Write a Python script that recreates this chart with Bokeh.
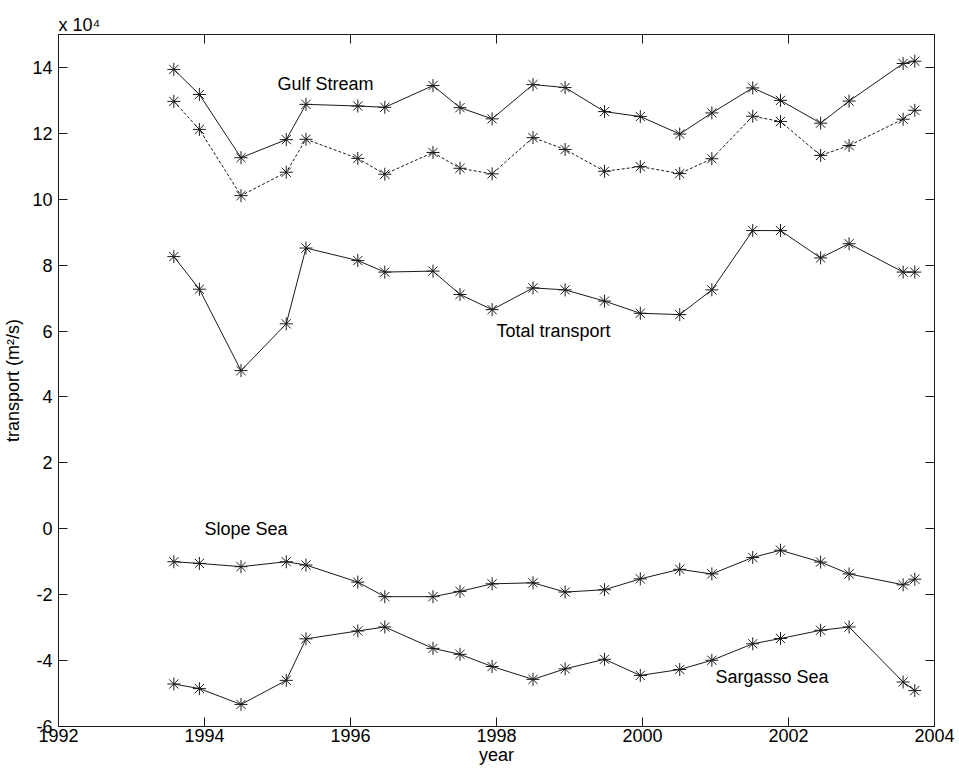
from bokeh.plotting import figure
from bokeh.models import LinearAxis, FixedTicker, Range1d, Label
from bokeh.embed import file_html
from bokeh.resources import INLINE

# Sampling times (decimal years)
years = [1993.58, 1993.93, 1994.50, 1995.12, 1995.39, 1996.10, 1996.47, 1997.13,
         1997.50, 1997.94, 1998.50, 1998.94, 1999.48, 1999.97, 2000.51, 2000.95,
         2001.51, 2001.89, 2002.44, 2002.83, 2003.57, 2003.73]

# Transports in units of 10^4 m^2/s
gulf_stream = [13.94, 13.18, 11.26, 11.81, 12.88, 12.83, 12.79, 13.45, 12.78, 12.44, 13.48,
               13.39, 12.66, 12.51, 11.98, 12.62, 13.38, 13.00, 12.31, 12.98, 14.12, 14.19]
gulf_stream_alt = [12.97, 12.12, 10.11, 10.82, 11.82, 11.24, 10.76, 11.42, 10.94, 10.77, 11.87,
                   11.51, 10.85, 10.99, 10.78, 11.23, 12.52, 12.36, 11.33, 11.63, 12.43, 12.70]
total_transport = [8.26, 7.27, 4.80, 6.22, 8.52, 8.14, 7.79, 7.82, 7.11, 6.65, 7.31,
                   7.25, 6.91, 6.54, 6.50, 7.25, 9.05, 9.05, 8.22, 8.65, 7.79, 7.79]
slope_sea = [-1.00, -1.05, -1.15, -1.00, -1.10, -1.62, -2.06, -2.06, -1.90, -1.67, -1.64,
             -1.92, -1.85, -1.52, -1.23, -1.37, -0.87, -0.65, -1.01, -1.37, -1.70, -1.53]
sargasso_sea = [-4.71, -4.85, -5.33, -4.60, -3.34, -3.10, -2.98, -3.63, -3.81, -4.18, -4.57,
                -4.25, -3.96, -4.45, -4.27, -3.99, -3.49, -3.33, -3.08, -2.98, -4.65, -4.91]

x_ticks = [1992, 1994, 1996, 1998, 2000, 2002, 2004]
y_ticks = [-6, -4, -2, 0, 2, 4, 6, 8, 10, 12, 14]

FONT = "Liberation Sans"
FS = "18px"
INK = "#1a1a1a"

p = figure(
    frame_width=876, frame_height=692,
    min_border_left=58, min_border_right=25, min_border_top=34, min_border_bottom=43,
    x_range=Range1d(1992, 2004), y_range=Range1d(-6, 15),
    output_backend="svg", toolbar_location=None,
    background_fill_color="white", border_fill_color="white",
)
p.grid.visible = False
p.outline_line_color = INK
p.outline_line_width = 1

# Scale factor note above the y axis
p.title.text = "x 10\u2074"
p.title.align = "left"
p.title.offset = 0
p.title.standoff = 0
p.title.text_font = FONT
p.title.text_font_size = FS
p.title.text_font_style = "normal"
p.title.text_color = "black"

for ax, ticks in ((p.xaxis[0], x_ticks), (p.yaxis[0], y_ticks)):
    ax.ticker = FixedTicker(ticks=ticks)
    ax.major_label_overrides = {float(t): str(t) for t in ticks}
    ax.major_tick_in = 9
    ax.major_tick_out = 0
    ax.minor_tick_line_color = None
    ax.axis_line_color = INK
    ax.major_tick_line_color = INK
    ax.major_label_text_font = FONT
    ax.major_label_text_font_size = FS
    ax.major_label_text_color = "black"
    ax.axis_label_text_font = FONT
    ax.axis_label_text_font_size = FS
    ax.axis_label_text_font_style = "normal"
    ax.axis_label_text_color = "black"

p.xaxis[0].axis_label = "year"
p.xaxis[0].major_label_standoff = 2
p.xaxis[0].axis_label_standoff = 0
p.yaxis[0].axis_label = "transport (m²/s)"
p.yaxis[0].major_label_standoff = 6
p.yaxis[0].axis_label_standoff = 6

# Mirrored box axes with inward ticks and no labels
for loc, ticks in (("above", x_ticks), ("right", y_ticks)):
    ax = LinearAxis(ticker=FixedTicker(ticks=ticks), major_tick_in=9, major_tick_out=0,
                    minor_tick_line_color=None, major_label_text_color=None,
                    major_label_standoff=0, major_label_text_font_size="1px",
                    axis_line_color=INK, major_tick_line_color=INK)
    p.add_layout(ax, loc)

series = [
    (gulf_stream, "solid"),
    (gulf_stream_alt, "3 2"),
    (total_transport, "solid"),
    (slope_sea, "solid"),
    (sargasso_sea, "solid"),
]
for vals, dash in series:
    p.line(years, vals, line_color=INK, line_width=1, line_dash=dash)
    p.scatter(years, vals, marker="asterisk", size=13, line_color=INK, line_width=1)

annotations = [
    ("Gulf Stream", 1995.0, 13.5),
    ("Total transport", 1998.0, 6.0),
    ("Slope Sea", 1994.0, 0.0),
    ("Sargasso Sea", 2001.0, -4.5),
]
for txt, xv, yv in annotations:
    p.add_layout(Label(x=xv, y=yv, text=txt, text_font=FONT, text_font_size=FS,
                       text_color="black", text_baseline="middle", text_align="left"))

open("out.html", "w").write(file_html(p, INLINE))
